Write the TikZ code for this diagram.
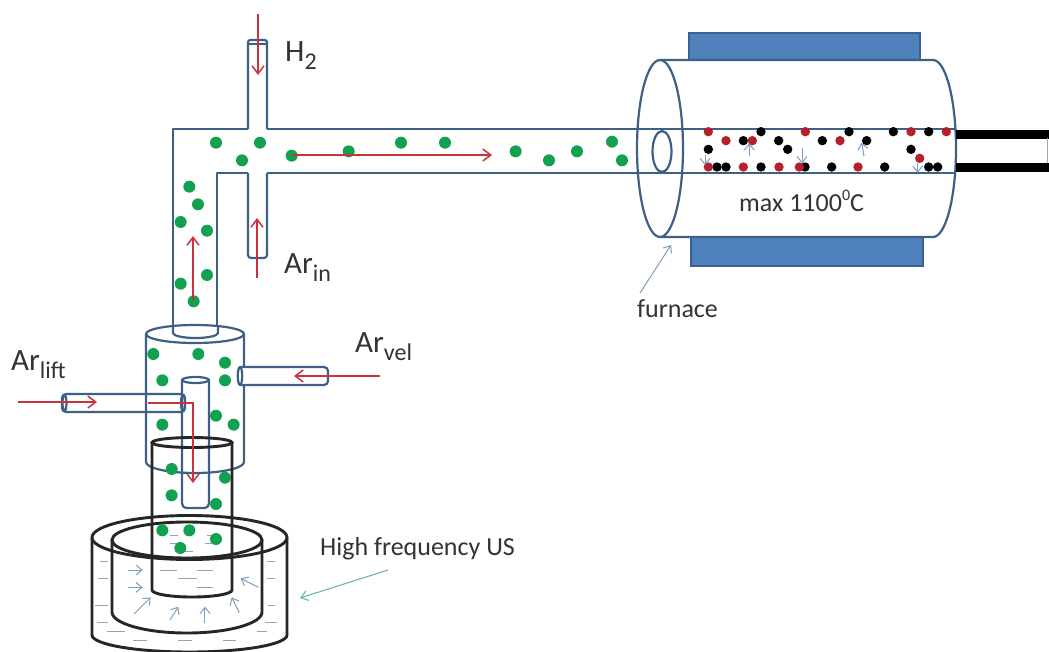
\documentclass[tikz,border=0pt]{standalone}
\usepackage{fontspec}
\setmainfont{Carlito}
\usetikzlibrary{arrows.meta}
\definecolor{tubeblue}{HTML}{3F6085}
\definecolor{fillblue}{HTML}{4F81BD}
\definecolor{edgeblue}{HTML}{3A6290}
\definecolor{redline}{HTML}{C9343C}
\definecolor{greendot}{HTML}{12A150}
\definecolor{reddot}{HTML}{B5202C}
\definecolor{paleblue}{HTML}{7F9DBD}
\definecolor{dashblue}{HTML}{8FA6BE}
\definecolor{palegreen}{HTML}{5DB88A}
\definecolor{textgrey}{HTML}{333333}
\newcommand{\lowtext}[1]{\raisebox{-8pt}{\fontsize{24}{24}\selectfont #1}}
\tikzset{
  tube/.style={draw=tubeblue,line width=2.2pt,line join=round},
  tubefill/.style={tube,fill=white},
  blackline/.style={draw=black!85,line width=2.9pt},
  redarrow/.style={draw=redline,line width=1.5pt,-{Straight Barb[length=8pt,width=12pt,line width=1.5pt]}},
  bluearrow/.style={draw=paleblue,line width=1pt,-{Straight Barb[length=6pt,width=10pt]}},
  watermark/.style={draw=dashblue,line width=1pt},
  bigl/.style={inner sep=0pt,anchor=base west,text=textgrey,font=\fontsize{31}{31}\selectfont},
  smalll/.style={inner sep=0pt,anchor=base west,text=textgrey,font=\fontsize{26}{30}\selectfont},
  furn/.style={draw=edgeblue,line width=1.4pt,fill=fillblue},
  zoomA/.style={shift={(620,20)},x=.33333pt,y=-.33333pt},
  zoomB/.style={shift={(0,310)},x=.33333pt,y=-.33333pt},
  zoomC/.style={shift={(150,0)},x=.33333pt,y=-.33333pt},
}
\begin{document}
\begin{tikzpicture}[x=1pt,y=-1pt]
\clip (0,0) rectangle (1049,651);
\fill[white] (0,0) rectangle (1049,651);
% furnace blocks
\draw[furn] (689,33) rectangle (920,62);
\draw[furn] (691,236) rectangle (923,266);
% furnace body
\fill[white] (660,60) rectangle (933,237);
\draw[tube] (660,60) -- (933,60) arc[start angle=90,end angle=-90,x radius=23pt,y radius=88.5pt] -- (660,237);
\draw[tube] (660,148.5) ellipse [x radius=23pt,y radius=88.5pt];
% exit tube
\fill[black] (956,130) rectangle (1049,138.5);
\fill[black] (956,163) rectangle (1049,172);
\draw[draw=gray!70,line width=1pt] (1047.5,138) -- (1047.5,163);
% pipes
\draw[tube] (248,129) -- (248,42) to[out=90,in=180] (251,40) -- (264,40) to[out=0,in=90] (267,42) -- (267,129);
\draw[tube] (248,44) -- (267,44);
\draw[tube] (248,173) -- (248,255) to[out=270,in=180] (251,258) -- (264,258) to[out=0,in=270] (267,255) -- (267,173);
\draw[tube] (173,333) -- (173,129) -- (248,129);
\draw[tube] (267,129) -- (956,129);
\draw[tube] (217,333) -- (217,173) -- (248,173);
\draw[tube] (267,173) -- (956,173);
\draw[tube] (662,151.5) ellipse [x radius=9.5pt,y radius=20.5pt];
% upper vessel
\draw[tube] (146,334) -- (146,462) arc[start angle=180,end angle=360,x radius=49pt,y radius=11pt] -- (244,334);
\draw[tube] (195,334) ellipse [x radius=49pt,y radius=9pt];
\draw[tube,fill=white] (173,327) -- (173,333) arc[start angle=180,end angle=360,x radius=22.5pt,y radius=5pt] -- (218,327);
% Ar vel side tube
\draw[tube,fill=white] (240,367) -- (324,367) to[out=0,in=90] (328,371) -- (328,381) to[out=270,in=0] (324,385) -- (240,385);
\draw[tube] (240,376) ellipse [x radius=2.2pt,y radius=9pt];
% inner vertical tube
\draw[tube] (182,380) -- (182,503) to[out=270,in=180] (186,508) -- (205,508) to[out=0,in=270] (209,503) -- (209,380);
\draw[tube] (195.5,380) ellipse [x radius=13.5pt,y radius=3pt];
% Ar lift tube
\draw[tube] (66,394) -- (181,394) to[out=0,in=90] (185,398) -- (185,408) to[out=270,in=0] (181,412) -- (66,412) to[out=180,in=270] (62,408) -- (62,398) to[out=90,in=180] (66,394);
\draw[tube] (64.5,403) ellipse [x radius=2pt,y radius=8pt];
\draw[tube] (183,403) ellipse [x radius=2pt,y radius=8pt];
% black reactor tube
\draw[blackline] (152,442.5) -- (152,590) arc[start angle=180,end angle=360,x radius=40pt,y radius=7pt] -- (232,442.5);
\draw[blackline] (192,442.5) ellipse [x radius=40pt,y radius=5pt];
% water bath
\draw[blackline] (92,537.5) -- (92,635) arc[start angle=180,end angle=360,x radius=97.5pt,y radius=17pt] -- (287,537.5);
\draw[blackline] (189.5,537.5) ellipse [x radius=97.5pt,y radius=22pt];
\draw[blackline] (112,540) -- (112,612) arc[start angle=180,end angle=360,x radius=75pt,y radius=21pt] -- (262,540);
\draw[blackline] (187,540) ellipse [x radius=75pt,y radius=18pt];
% water marks and ultrasound arrows
\begin{scope}[zoomB]
\foreach \a/\b/\c in {300/325/755,295/325/805,285/325/885,290/325/938,320/375/965,400/440/992,535/575/992,668/708/992,770/800/965,795/830/938,805/825/885,800/825/805,800/825/755,480/530/780,590/640/780,535/590/805,590/640/832,510/535/675,620/650/675,510/540/700,615/645/700,525/580/725}
  \draw[watermark] (\a,\c) -- (\b,\c);
\draw[bluearrow] (385,780) -- (428,780);
\draw[bluearrow] (385,832) -- (428,832);
\draw[bluearrow] (402,912) -- (452,862);
\draw[bluearrow] (510,930) -- (535,890);
\draw[bluearrow] (615,938) -- (615,890);
\draw[bluearrow] (718,908) -- (695,862);
\draw[bluearrow] (775,832) -- (722,805);
\end{scope}
% green particles
\begin{scope}[zoomB]
\foreach \p/\q in {460/132,595/132,675/158,487/211,675/211,648/317,701/344,487/344,515/477,675/503,515/556,648/582,487/661,568/661,648/687,541/714}
  \fill[greendot] (\p,\q) circle[radius=6pt];
\end{scope}
\begin{scope}[zoomC]
\foreach \p/\q in {198/428,330/428,276/481,425/467,596/454,753/428,885/428,1097/454,1197/481,118/560,144/613,92/666,171/692,171/825,92/851,131/904,1281/454,1386/425,1416/481}
  \fill[greendot] (\p,\q) circle[radius=6pt];
\end{scope}
% furnace particles
\begin{scope}[zoomA]
\foreach \p/\q in {423/335,370/362,476/362,503/388,265/388,607/362,687/335,740/362,820/335,926/335,873/388,291/441,318/441,423/441,555/441,635/441,794/441,926/441,953/441}
  \fill[black] (\p,\q) circle[radius=4.7pt];
\foreach \p/\q in {265/335,318/362,397/362,556/335,660/362,873/335,979/335,899/415,265/441,370/441,477/441,538/441,714/441}
  \fill[reddot] (\p,\q) circle[radius=4.7pt];
\draw[bluearrow] (255,405) -- (255,435);
\draw[bluearrow] (388,408) -- (388,370);
\draw[bluearrow] (546,385) -- (546,430);
\draw[bluearrow] (732,408) -- (725,368);
\draw[bluearrow] (893,430) -- (893,458);
\end{scope}
% gas flow arrows
\draw[redarrow] (258,14) -- (258,75);
\draw[redarrow] (257,278) -- (257,218);
\draw[redarrow] (292,155) -- (492,155);
\draw[redarrow] (193,300) -- (193,236);
\draw[redarrow] (380,376) -- (294,376);
\draw[redarrow] (18,402) -- (97,402);
\draw[redarrow] (148,403) -- (193,403) -- (193,483);
% pointers
\coordinate (furnaceTail) at (640,293);
\coordinate (furnaceTip) at (671,245);
\draw[bluearrow] (furnaceTail) -- (furnaceTip);
\coordinate (usTail) at (388,570);
\coordinate (usTip) at (300,598);
\draw[draw=palegreen,line width=1pt,-{Straight Barb[length=7pt,width=10pt]}] (usTail) -- (usTip);
% labels
\node[bigl] (h2) at (285,61) {H\lowtext{2}};
\node[bigl] (arin) at (284,273) {Ar\lowtext{in}};
\node[bigl] (arlift) at (11,370) {Ar\lowtext{lift}};
\node[bigl] (arvel) at (355,352) {Ar\lowtext{vel}};
\node[smalll] (us) at (320,555) {High frequency US};
\node[smalll] (furnlabel) at (637,317) {furnace};
\node[smalll] (maxt) at (739,211) {max 1100\raisebox{.42em}{\fontsize{16}{16}\selectfont 0}C};
\end{tikzpicture}
\end{document}
